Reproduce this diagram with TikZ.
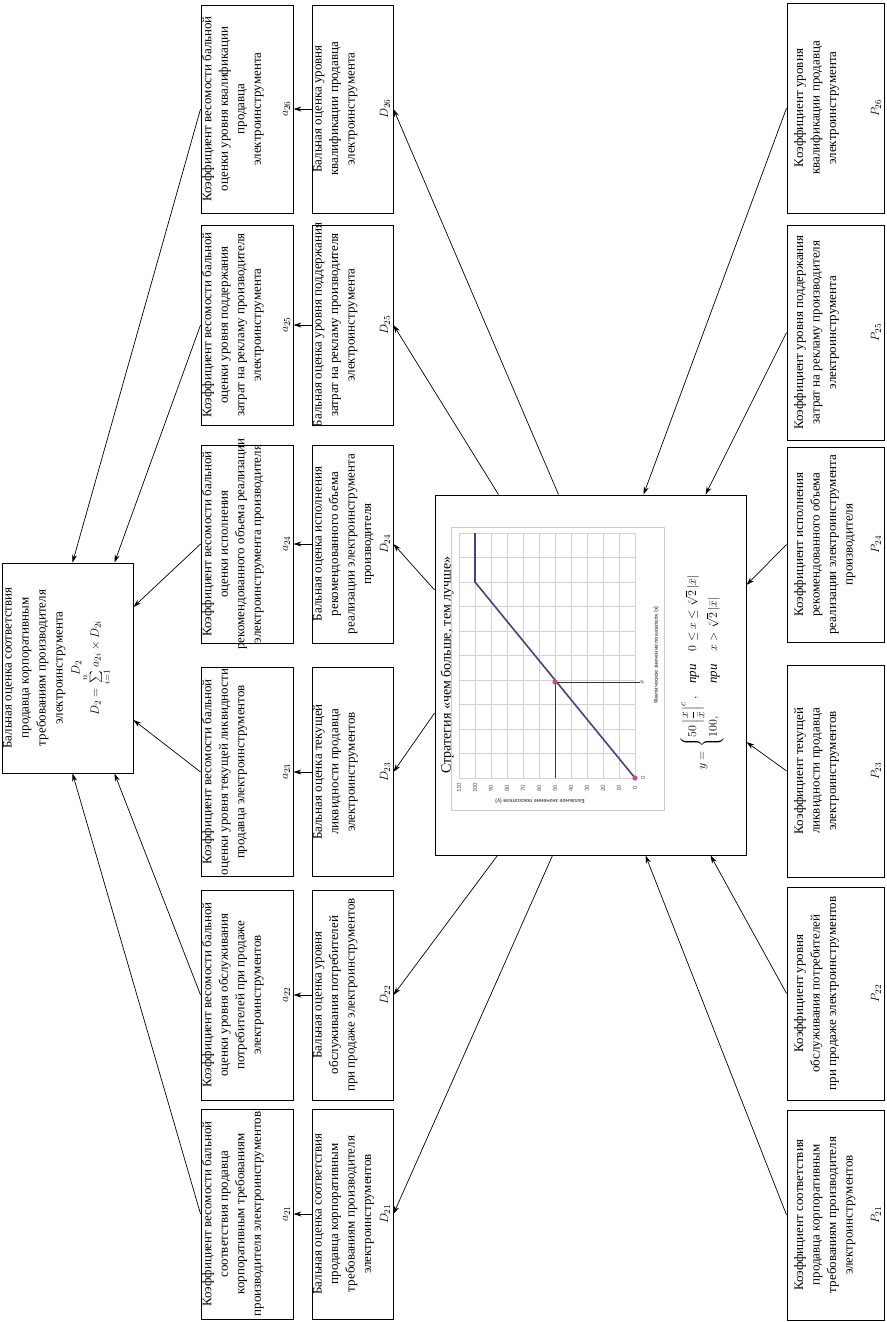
\documentclass[tikz,border=0pt]{standalone}
\usepackage{amsmath}
\usepackage{fontspec}
\setmainfont{Liberation Serif}
\newfontfamily\chartfont{Carlito}
\usetikzlibrary{arrows.meta,calc}
\definecolor{plotline}{RGB}{72,62,140}
\definecolor{plotdot}{RGB}{200,80,120}
\tikzstyle{cell} = [draw, rotate=90, inner sep=0pt, line width=0.9pt, font=\fontsize{13}{16.5}\selectfont]
\tikzstyle{arrow} = [-{Stealth[length=8pt,width=5pt]}, line width=0.7pt]
\tikzstyle{gridline} = [gray!35, line width=0.5pt]
\tikzstyle{ticklbl} = [rotate=90, inner sep=1pt, font=\chartfont\fontsize{6.5}{7}\selectfont, text=gray!70!black]
\newcommand{\celltext}[4]{\parbox[c][#2pt][t]{#1pt}{\centering\vspace*{1pt}#3\par\vfill #4\par\vspace*{3pt}}}

\begin{document}
\begin{tikzpicture}[x=1pt, y=-1pt]
    \useasboundingbox (0,0) rectangle (886,1322);

    % result
    \node[cell, font=\fontsize{13}{17}\selectfont] (D2) at (67.5,668) {\parbox[c][131pt][t]{210pt}{\centering\vspace*{1pt}Бальная оценка соответствия\\ продавца корпоративным\\ требованиям производителя\\ электроинструмента\\ $D_2$\\ $D_2=\sum\limits_{i=1}^{n} a_{2i}\times D_{2i}$}};

    % weights
    \node[cell] (a26) at (247,109) {\celltext{208}{92}{Коэффициент весомости бальной\\ оценки уровня квалификации\\ продавца\\ электроинструмента}{$a_{26}$}};
    \node[cell] (a25) at (247,325) {\celltext{200}{92}{Коэффициент весомости бальной\\ оценки уровня поддержания\\ затрат на рекламу производителя\\ электроинструмента}{$a_{25}$}};
    \node[cell] (a24) at (247,544) {\celltext{198}{92}{Коэффициент весомости бальной\\ оценки исполнения\\ \makebox[198pt]{рекомендованного объема реализации}\\ электроинструмента производителя}{$a_{24}$}};
    \node[cell] (a23) at (247,772) {\celltext{209}{92}{Коэффициент весомости бальной\\ оценки уровня текущей ликвидности\\ продавца электроинструментов}{$a_{23}$}};
    \node[cell] (a22) at (247,995) {\celltext{210}{92}{Коэффициент весомости бальной\\ оценки уровня обслуживания\\ потребителей при продаже\\ электроинструментов}{$a_{22}$}};
    \node[cell] (a21) at (247,1214) {\celltext{210}{92}{Коэффициент весомости бальной\\ соответствия продавца\\ корпоративным требованиям\\ производителя электроинструментов}{$a_{21}$}};

    % scores
    \node[cell] (D26) at (352.5,109) {\celltext{208}{81}{Бальная оценка уровня\\ квалификации продавца\\ электроинструмента}{$D_{26}$}};
    \node[cell] (D25) at (352.5,325) {\celltext{200}{81}{\makebox[200pt]{Бальная оценка уровня поддержания}\\ затрат на рекламу производителя\\ электроинструмента}{$D_{25}$}};
    \node[cell] (D24) at (352.5,544) {\celltext{198}{81}{Бальная оценка исполнения\\ рекомендованного объема\\ реализации электроинструмента\\ производителя}{$D_{24}$}};
    \node[cell] (D23) at (352.5,772) {\celltext{209}{81}{Бальная оценка текущей\\ ликвидности продавца\\ электроинструментов}{$D_{23}$}};
    \node[cell] (D22) at (352.5,995) {\celltext{210}{81}{Бальная оценка уровня\\ обслуживания потребителей\\ при продаже электроинструментов}{$D_{22}$}};
    \node[cell] (D21) at (352.5,1214) {\celltext{210}{81}{Бальная оценка соответствия\\ продавца корпоративным\\ требованиям производителя\\ электроинструментов}{$D_{21}$}};

    % indicators
    \node[cell] (P26) at (835.5,108) {\celltext{210}{97}{\vspace*{6pt}Коэффициент уровня\\ квалификации продавца\\ электроинструмента}{$P_{26}$}};
    \node[cell] (P25) at (835.5,332.5) {\celltext{215}{97}{\vspace*{6pt}Коэффициент уровня поддержания\\ затрат на рекламу производителя\\ электроинструмента}{$P_{25}$}};
    \node[cell] (P24) at (835.5,544.5) {\celltext{195}{97}{\vspace*{6pt}Коэффициент исполнения\\ рекомендованного объема\\ реализации электроинструмента\\ производителя}{$P_{24}$}};
    \node[cell] (P23) at (835.5,771) {\celltext{212}{97}{\vspace*{6pt}Коэффициент текущей\\ ликвидности продавца\\ электроинструментов}{$P_{23}$}};
    \node[cell] (P22) at (835.5,993.5) {\celltext{213}{97}{\vspace*{6pt}Коэффициент уровня\\ обслуживания потребителей\\ при продаже электроинструментов}{$P_{22}$}};
    \node[cell] (P21) at (835.5,1215) {\celltext{210}{97}{\vspace*{6pt}Коэффициент соответствия\\ продавца корпоративным\\ требованиям производителя\\ электроинструментов}{$P_{21}$}};

    % strategy box
    \node[draw, line width=0.9pt, minimum width=311pt, minimum height=360pt] (strat) at (590.5,675) {};
    \node[rotate=90, font=\fontsize{14}{16}\selectfont] (title) at (447,665) {Стратегия «чем больше, тем лучше»};
    \draw[gray!40, line width=0.5pt] (451,527) rectangle (664,810);
    \foreach \k in {0,...,11}
        \draw[gridline] ({635-16*\k},533) -- ({635-16*\k},778);
    \foreach \k in {0,...,10}
        \draw[gridline] (459,{778-24.5*\k}) -- (635,{778-24.5*\k});
    \foreach \v [count=\k from 0] in {0,10,...,110}
        \node[ticklbl] (ty\k) at ({635-16*\k},788) {\v};
    \node[ticklbl] (tx0) at (643,778) {0};
    \node[ticklbl, text=black] (txm) at (642,682) {$\bar{x}$};
    \node[rotate=180, inner sep=1pt, font=\chartfont\bfseries\fontsize{6}{7}\selectfont, text=gray!70!black] (ylab) at (540,801) {Балльное значение показателя (y)};
    \node[rotate=90, inner sep=1pt, font=\chartfont\bfseries\fontsize{6}{7}\selectfont, text=gray!70!black] (xlab) at (656,655) {Фактическое значение показателя (x)};
    \draw[gray!40!black, line width=0.6pt] (555,778) -- (555,682) -- (640,682);
    \draw[plotline, line width=1.6pt] (635,778) -- (475,582) -- (475,533);
    \fill[plotdot] (635,778) circle (2.6pt);
    \fill[plotdot] (555,682) circle (2.6pt);
    \node[rotate=90, font=\fontsize{13}{15}\selectfont] (form) at (702,672) {$y=\begin{cases}50\left|\dfrac{x}{\bar{x}}\right|^{c}, & \textit{при}\quad 0\le x\le\sqrt[c]{2}\,|\bar{x}|\\[2pt] 100, & \textit{при}\quad x>\sqrt[c]{2}\,|\bar{x}|\end{cases}$};

    % scores to weights
    \foreach \i in {21,...,26}
        \draw[arrow] (D\i) -- (a\i);

    % weights to result
    \draw[arrow] (a26.north) -- ([xshift=5pt]D2.east);
    \draw[arrow] (a25.north) -- ([xshift=47pt]D2.east);
    \draw[arrow] (a24.north) -- ([yshift=61pt]D2.south);
    \draw[arrow] (a23.north) -- ([yshift=-52pt]D2.south);
    \draw[arrow] (a22.north) -- ([xshift=47pt]D2.west);
    \draw[arrow] (a21.north) -- ([xshift=5pt]D2.west);

    % strategy to scores
    \draw[arrow] ([xshift=-32pt]strat.north) -- (D26.south);
    \draw[arrow] ([xshift=-92pt]strat.north) -- (D25.south);
    \draw[arrow] ([yshift=85pt]strat.west) -- (D24.south);
    \draw[arrow] ([yshift=-38pt]strat.west) -- (D23.south);
    \draw[arrow] ([xshift=-93pt]strat.south) -- (D22.south);
    \draw[arrow] ([xshift=-38pt]strat.south) -- (D21.south);

    % indicators to strategy
    \draw[arrow] (P26.north) -- ([xshift=53pt]strat.north);
    \draw[arrow] (P25.north) -- ([xshift=115pt]strat.north);
    \draw[arrow] (P24.north) -- ([yshift=90pt]strat.east);
    \draw[arrow] (P23.north) -- ([yshift=-67pt]strat.east);
    \draw[arrow] (P22.north) -- ([xshift=120pt]strat.south);
    \draw[arrow] (P21.north) -- ([xshift=55pt]strat.south);
\end{tikzpicture}
\end{document}
